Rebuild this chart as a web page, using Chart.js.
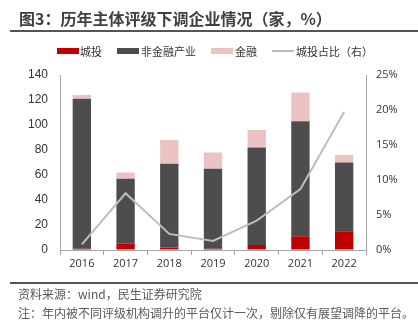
<!DOCTYPE html>
<html>
<head>
<meta charset="utf-8">
<script src="https://cdn.jsdelivr.net/npm/chart.js@4/dist/chart.umd.min.js"></script>
<style>
  body { margin: 0; background: #fff; font-family: "Noto Sans CJK SC", sans-serif; }
  #wrap { position: relative; width: 418px; height: 329px; overflow: hidden; }
  #chart { position: absolute; left: 0; top: 0; }
  .title { position: absolute; left: 19px; top: 6px; font-size: 16px; font-weight: bold; color: #404040; white-space: nowrap; }
  .rule { position: absolute; left: 10px; right: 0; height: 2px; background: #555; }
  .legend { position: absolute; top: 43px; left: 57px; font-size: 11px; color: #333; white-space: nowrap; }
  .legend span { position: absolute; top: 0; }
  .legend i { position: absolute; display: block; width: 22px; }
  .foot { position: absolute; left: 18px; font-size: 12px; color: #595959; white-space: nowrap; }
</style>
</head>
<body>
<div id="wrap">
  <canvas id="chart" width="418" height="329"></canvas>
  <div class="title">图3：历年主体评级下调企业情况（家，%）</div>
  <div class="rule" style="top:30px"></div>
  <div class="legend" id="legend"></div>
  <div class="rule" style="top:282px;height:1.5px"></div>
  <div class="foot" style="top:285px">资料来源：wind，民生证券研究院</div>
  <div class="foot" style="top:304px">注：年内被不同评级机构调升的平台仅计一次，剔除仅有展望调降的平台。</div>
</div>
<script>
const years = ['2016', '2017', '2018', '2019', '2020', '2021', '2022'];
// 家数
const chengtou = [1, 5, 2, 1, 4, 11, 15];
const feijinrong = [120, 52, 67, 64, 78, 92, 55];
const jinrong = [3, 5, 19, 13, 14, 23, 6];
// 城投占比（%）
const chengtouRatio = [0.8, 8.1, 2.3, 1.3, 4.2, 8.7, 19.7];

const seriesNames = ['城投', '非金融产业', '金融', '城投占比（右）'];
const colors = ['#C00000', '#4D4D4F', '#EBC3C3', '#BDBDBD'];

// legend drawn in html
const legendPos = [[0, 23], [60, 84], [154, 178], [215, 239]];
const legend = document.getElementById('legend');
seriesNames.forEach((name, i) => {
    const box = document.createElement('i');
    box.style.left = legendPos[i][0] + 'px';
    if (i === 3) {
        box.style.top = '7px';
        box.style.height = '2px';
    } else {
        box.style.top = '5px';
        box.style.height = '6px';
    }
    box.style.background = colors[i];
    legend.appendChild(box);
    const label = document.createElement('span');
    label.style.left = legendPos[i][1] + 'px';
    label.textContent = name;
    legend.appendChild(label);
});

const axisColor = '#A6A6A6';
const tickFont = { family: 'Liberation Sans, Arial, sans-serif', size: 12 };

new Chart(document.getElementById('chart'), {
    type: 'bar',
    data: {
        labels: years,
        datasets: [
            { label: seriesNames[0], data: chengtou, backgroundColor: colors[0], order: 1, yAxisID: 'y' },
            { label: seriesNames[1], data: feijinrong, backgroundColor: colors[1], order: 1, yAxisID: 'y' },
            { label: seriesNames[2], data: jinrong, backgroundColor: colors[2], order: 1, yAxisID: 'y' },
            {
                type: 'line',
                label: seriesNames[3],
                data: chengtouRatio,
                borderColor: colors[3],
                borderWidth: 2,
                pointRadius: 0,
                tension: 0,
                order: 0,
                yAxisID: 'y1'
            }
        ]
    },
    options: {
        responsive: false,
        animation: false,
        devicePixelRatio: 1,
        layout: { padding: { top: 75, left: 0, right: 0, bottom: 49 } },
        datasets: { bar: { categoryPercentage: 1, barPercentage: 0.42 } },
        plugins: { legend: { display: false }, tooltip: { enabled: false } },
        scales: {
            x: {
                stacked: true,
                grid: { drawOnChartArea: false, drawTicks: true, tickLength: 5, color: axisColor },
                border: { color: axisColor },
                ticks: { color: '#333', font: { family: 'Open Sans, sans-serif', size: 11 }, padding: 2 },
                afterFit: (scale) => { scale.height = 30; }
            },
            y: {
                stacked: true,
                min: 0,
                max: 140,
                ticks: { stepSize: 20, color: '#333', font: tickFont, padding: 12 },
                grid: { drawOnChartArea: false, drawTicks: false },
                border: { color: axisColor },
                afterFit: (scale) => { scale.width = 60; }
            },
            y1: {
                position: 'right',
                min: 0,
                max: 25,
                ticks: {
                    stepSize: 5,
                    color: '#333',
                    font: { family: 'Open Sans, sans-serif', size: 11 },
                    padding: 10,
                    callback: (v) => v + '%'
                },
                grid: { drawOnChartArea: false, drawTicks: false },
                border: { color: axisColor },
                afterFit: (scale) => { scale.width = 52; }
            }
        }
    }
});
</script>
</body>
</html>
